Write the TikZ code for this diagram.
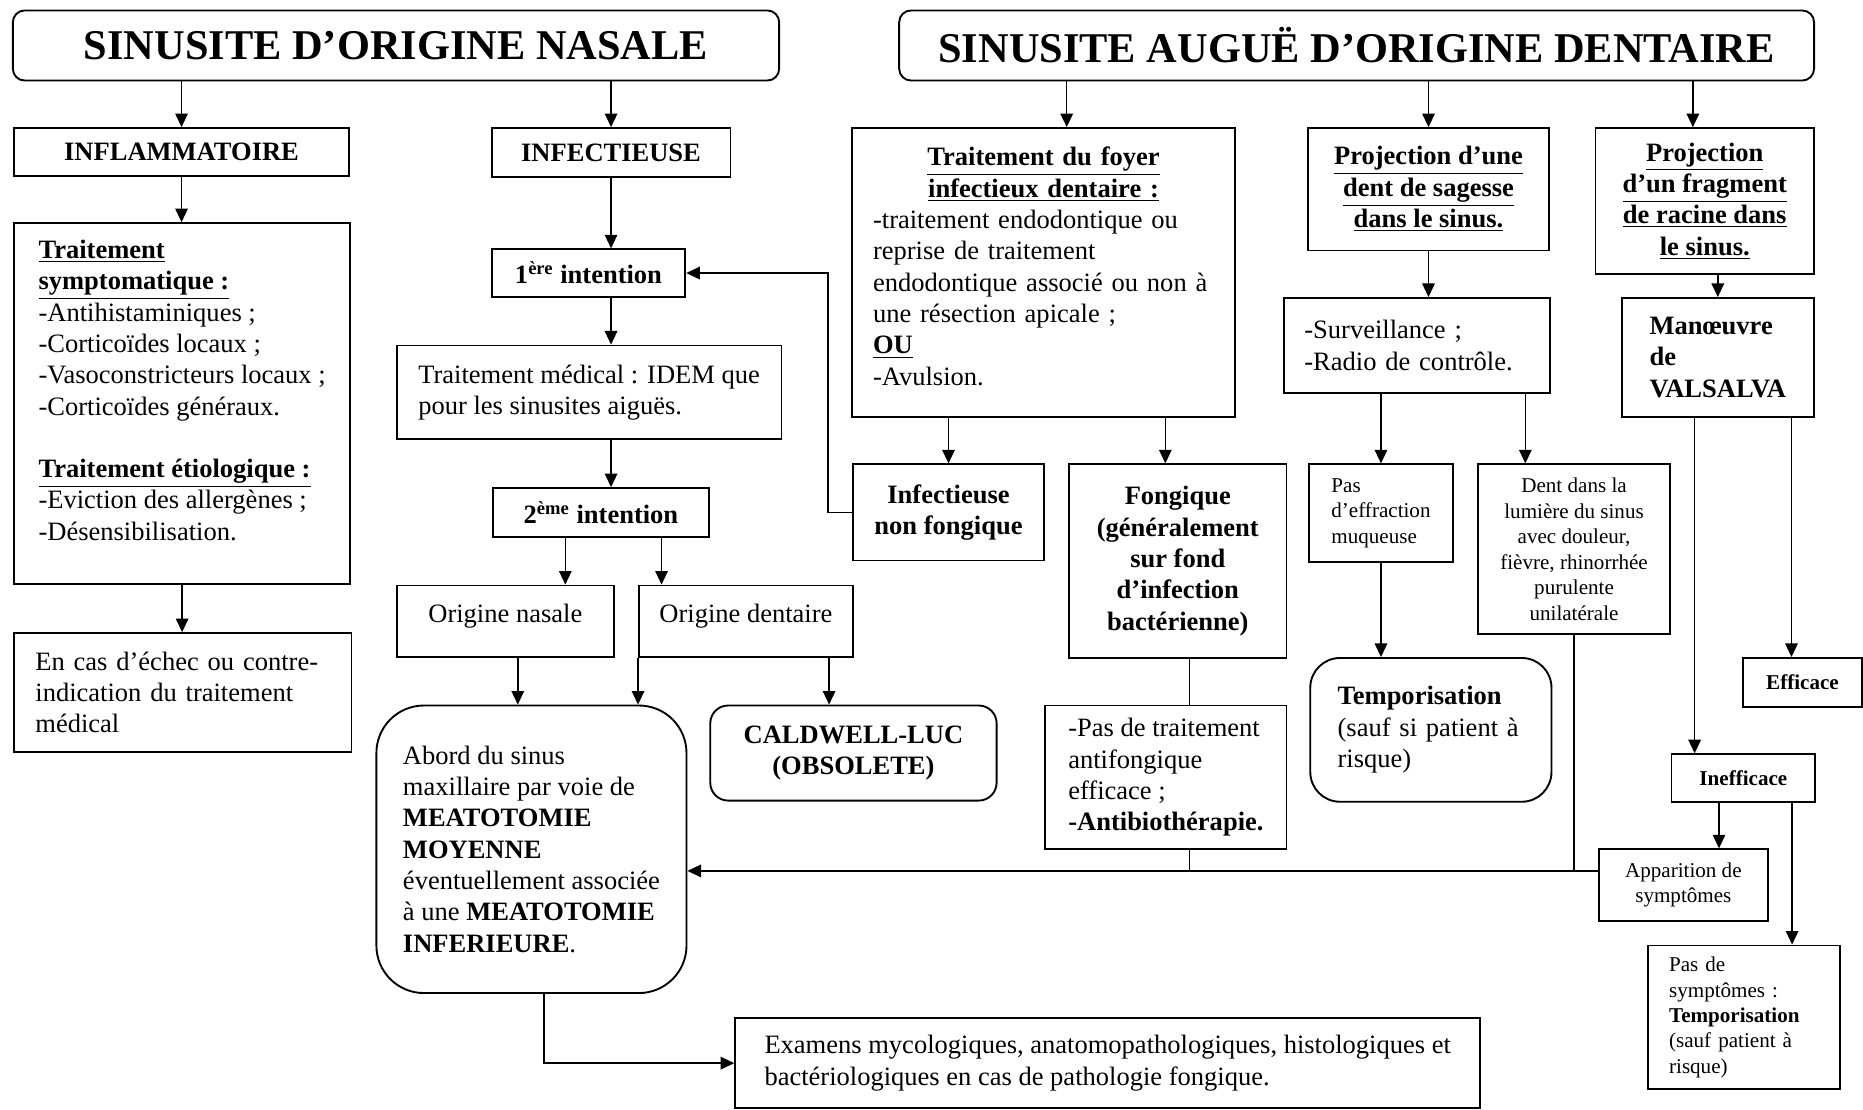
\documentclass[tikz,border=0pt]{standalone}
\usepackage{fontspec}
\setmainfont{Liberation Serif}
\usetikzlibrary{arrows.meta}
\newcommand{\fnbody}{\fontsize{12.7}{15}\selectfont}
\newcommand{\fnsmall}{\fontsize{10.1}{12.2}\selectfont}
\newcommand{\fntitle}{\fontsize{20.3}{24}\selectfont\bfseries}

\begin{document}
\begin{tikzpicture}[>={Triangle[length=6.5pt, width=6pt]}, line width=0.7pt,
  box/.style={draw, line width=0.9pt, anchor=north west, inner sep=0pt, align=center, font=\fnbody},
  bbox/.style={box, font=\fnbody\bfseries},
  lbox/.style={box, align=left},
  tbox/.style={box, align=left, inner xsep=#1},
  sbox/.style={box, font=\fnsmall},
  head/.style={box, rounded corners=0.2cm, font=\fntitle}]
  \useasboundingbox (0,0) rectangle (31.36,-18.68);

  % nasal side
  \node[head, minimum width=12.9cm, minimum height=1.18cm] (titleN) at (0.2,-0.16) {SINUSITE D’ORIGINE NASALE};
  \node[bbox, minimum width=5.64cm, minimum height=0.8cm] (inflam) at (0.22,-2.14) {INFLAMMATOIRE};
  \node[bbox, minimum width=4.02cm, minimum height=0.82cm] (infect) at (8.26,-2.14) {INFECTIEUSE};
  \node[lbox, minimum width=5.66cm, minimum height=6.08cm] (sympt) at (0.22,-3.74)
    {\underline{\textbf{Traitement}}\\
     \underline{\textbf{symptomatique :}}\\
     -Antihistaminiques ;\\
     -Corticoïdes locaux ;\\
     -Vasoconstricteurs locaux ;\\
     -Corticoïdes généraux.\\[15pt]
     \underline{\textbf{Traitement étiologique :}}\\
     -Eviction des allergènes ;\\
     -Désensibilisation.\\[-2pt]\mbox{}};
  \node[tbox=0.36cm, text width=4.96cm, minimum height=2cm] (echec) at (0.22,-10.64)
    {En cas d’échec ou contre-\\indication du traitement\\médical};
  \node[bbox, minimum width=3.26cm, minimum height=0.8cm] (int1) at (8.26,-4.18) {1\textsuperscript{ère} intention};
  \node[lbox, minimum width=6.48cm, minimum height=1.58cm] (medic) at (6.66,-5.8)
    {Traitement médical : IDEM que\\pour les sinusites aiguës.};
  \node[bbox, minimum width=3.64cm, minimum height=0.82cm] (int2) at (8.28,-8.2) {2\textsuperscript{ème} intention};
  \node[box, minimum width=3.66cm, text height=0.62cm, text depth=0.58cm] (orinas) at (6.66,-9.84) {Origine nasale};
  \node[box, minimum width=3.6cm, text height=0.62cm, text depth=0.58cm] (oriden) at (10.74,-9.84) {Origine dentaire};
  \node[lbox, rounded corners=0.8cm, minimum width=5.22cm, minimum height=4.84cm] (abord) at (6.32,-11.86)
    {Abord du sinus\\maxillaire par voie de\\\textbf{MEATOTOMIE}\\\textbf{MOYENNE}\\éventuellement associée\\à une \textbf{MEATOTOMIE}\\\textbf{INFERIEURE}.};
  \node[bbox, rounded corners=0.3cm, minimum width=4.82cm, minimum height=1.6cm] (caldwell) at (11.94,-11.86)
    {CALDWELL-LUC\\(OBSOLETE)};
  \node[lbox, minimum width=12.54cm, minimum height=1.52cm] (examens) at (12.36,-17.12)
    {Examens mycologiques, anatomopathologiques, histologiques et\\bactériologiques en cas de pathologie fongique.};

  % dental side
  \node[head, minimum width=15.4cm, minimum height=1.18cm] (titleD) at (15.12,-0.16) {SINUSITE AUGUË D’ORIGINE DENTAIRE};
  \node[tbox=0.36cm, text width=5.74cm, minimum height=4.86cm] (foyer) at (14.32,-2.14)
    {\makebox[\linewidth]{\underline{\textbf{Traitement du foyer}}}\\
     \makebox[\linewidth]{\underline{\textbf{infectieux dentaire :}}}\\
     -traitement endodontique ou\\
     reprise de traitement\\
     endodontique associé ou non à\\
     une résection apicale ;\\
     \underline{\textbf{OU}}\\
     -Avulsion.\\[-9pt]\mbox{}};
  \node[bbox, minimum width=4.06cm, minimum height=2.06cm] (sagesse) at (22,-2.14)
    {\underline{Projection d’une}\\\underline{dent de sagesse}\\\underline{dans le sinus.}};
  \node[bbox, minimum width=3.68cm, minimum height=2.46cm] (fragment) at (26.84,-2.14)
    {\underline{Projection}\\\underline{d’un fragment}\\\underline{de racine dans}\\\underline{le sinus.}};
  \node[bbox, minimum width=3.22cm, minimum height=1.62cm] (infnf) at (14.34,-7.8) {Infectieuse\\non fongique};
  \node[bbox, minimum width=3.66cm, minimum height=3.26cm] (fong) at (17.98,-7.8)
    {Fongique\\(généralement\\sur fond\\d’infection\\bactérienne)};
  \node[tbox=0.34cm, text width=3.8cm, minimum height=1.6cm] (surv) at (21.6,-5)
    {-Surveillance ;\\-Radio de contrôle.};
  \node[lbox, font=\fnbody\bfseries, minimum width=3.24cm, minimum height=2cm] (valsalva) at (27.28,-5)
    {Manœuvre\\de\\VALSALVA};
  \node[lbox, font=\fnsmall, minimum width=2.42cm, minimum height=1.64cm] (pasef) at (22.02,-7.8)
    {Pas\\d’effraction\\muqueuse};
  \node[sbox, minimum width=3.24cm, minimum height=2.86cm] (dent) at (24.86,-7.8)
    {Dent dans la\\lumière du sinus\\avec douleur,\\fièvre, rhinorrhée\\purulente\\unilatérale};
  \node[tbox=0.46cm, text width=3.14cm, rounded corners=0.5cm, minimum height=2.42cm] (tempo) at (22.04,-11.06)
    {\textbf{Temporisation}\\(sauf si patient à\\risque)};
  \node[lbox, minimum width=4.06cm, minimum height=2.42cm] (antif) at (17.58,-11.86)
    {-Pas de traitement\\antifongique\\efficace ;\\\textbf{-Antibiothérapie.}};
  \node[sbox, font=\fnsmall\bfseries, minimum width=2.01cm, minimum height=0.82cm] (efficace) at (29.32,-11.06) {Efficace};
  \node[sbox, font=\fnsmall\bfseries, minimum width=2.42cm, minimum height=0.8cm] (ineff) at (28.12,-12.68) {Inefficace};
  \node[sbox, minimum width=2.84cm, minimum height=1.2cm] (appar) at (26.9,-14.28) {Apparition de\\symptômes};
  \node[tbox=0.36cm, font=\fnsmall, text width=2.52cm, minimum height=2.42cm] (passym) at (27.72,-15.9)
    {Pas de\\symptômes :\\\textbf{Temporisation}\\(sauf patient à\\risque)};

  % nasal connectors
  \draw[->] (titleN.south -| inflam.north) -- (inflam.north);
  \draw[->] (titleN.south -| infect.north) -- (infect.north);
  \draw[->] (inflam.south) -- (inflam.south |- sympt.north);
  \draw[->] (sympt.south) -- (sympt.south |- echec.north);
  \draw[->] (infect.south) -- (infect.south |- int1.north);
  \draw[->] (infect.south |- int1.south) -- (infect.south |- medic.north);
  \draw[->] (infect.south |- medic.south) -- (infect.south |- int2.north);
  \draw[->] ([xshift=-0.6cm]int2.south) -- ([xshift=-0.6cm]int2.south |- orinas.north);
  \draw[->] ([xshift=1.02cm]int2.south) -- ([xshift=1.02cm]int2.south |- oriden.north);
  \draw[->] ([xshift=0.21cm]orinas.south) -- ([xshift=0.21cm]orinas.south |- abord.north);
  \draw[->] (oriden.south west) -- (oriden.south west |- abord.north);
  \draw[->] ([xshift=1.4cm]oriden.south) -- ([xshift=1.4cm]oriden.south |- caldwell.north);
  \draw[->] ([xshift=0.21cm]abord.south) |- (examens.west);
  \draw[->] (infnf.west) -- ++(-0.4,0) |- (int1.east);

  % dental connectors
  \draw[->] ([xshift=0.39cm]foyer.north |- titleD.south) -- ([xshift=0.39cm]foyer.north);
  \draw[->] (sagesse.north |- titleD.south) -- (sagesse.north);
  \draw[->] ([xshift=-0.2cm]fragment.north |- titleD.south) -- ([xshift=-0.2cm]fragment.north);
  \draw[->] (infnf.north |- foyer.south) -- (infnf.north);
  \draw[->] ([xshift=-0.21cm]fong.north |- foyer.south) -- ([xshift=-0.21cm]fong.north);
  \draw[->] (sagesse.south) -- (sagesse.south |- surv.north);
  \draw[->] (valsalva.north |- fragment.south) -- (valsalva.north);
  \draw[->] (pasef.north |- surv.south) -- (pasef.north);
  \draw[->] ([xshift=-0.82cm]dent.north |- surv.south) -- ([xshift=-0.82cm]dent.north);
  \draw[->] (pasef.south) -- (pasef.south |- tempo.north);
  \draw[->] ([xshift=-0.39cm]valsalva.south) -- ([xshift=-0.39cm]valsalva.south |- ineff.north);
  \draw[->] ([xshift=1.24cm]valsalva.south) -- ([xshift=1.24cm]valsalva.south |- efficace.north);
  \draw[->] ([xshift=-0.41cm]ineff.south) -- ([xshift=-0.41cm]ineff.south |- appar.north);
  \draw[->] ([xshift=0.82cm]ineff.south) -- ([xshift=0.82cm]ineff.south |- passym.north);

  % return to the meatotomy
  \coordinate (jn) at (20.02,-14.66);
  \draw (fong.south -| jn) -- (antif.north -| jn);
  \draw[->] (antif.south -| jn) -- (jn) -- (abord.east |- jn);
  \draw (dent.south) -- (dent.south |- jn);
  \draw (jn) -- (appar.west |- jn);
\end{tikzpicture}
\end{document}
